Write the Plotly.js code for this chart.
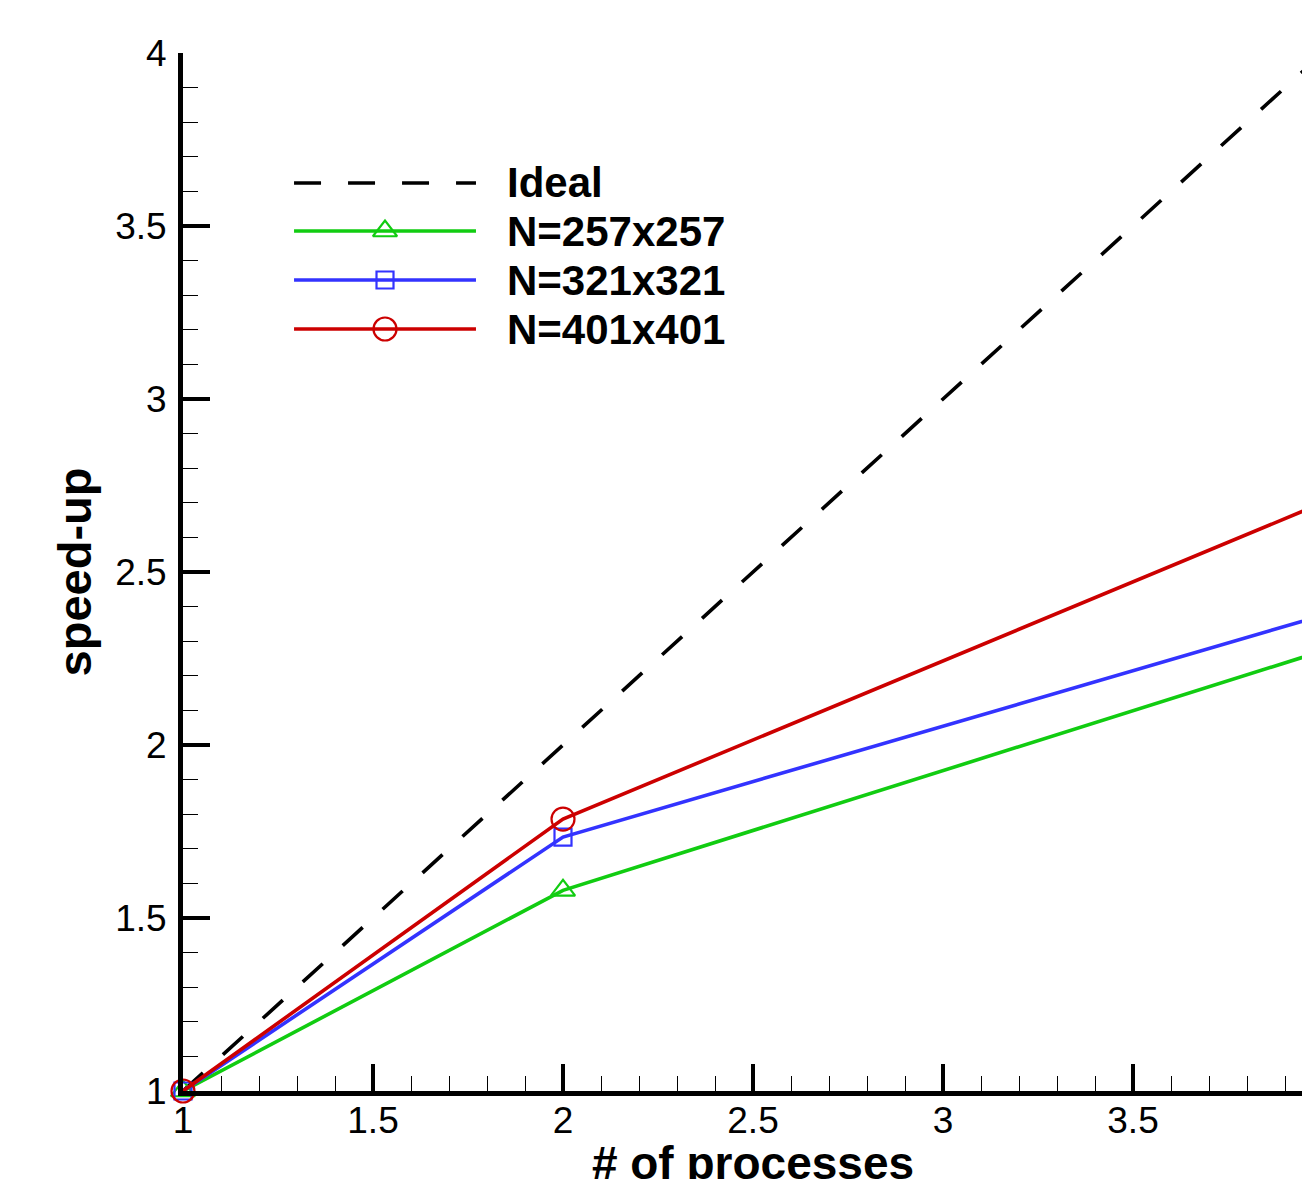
<!DOCTYPE html>
<html>
<head>
<meta charset="utf-8">
<script src="https://cdn.plot.ly/plotly-3.0.1.min.js"></script>
<style>
html,body{margin:0;padding:0;overflow:hidden;background:#fff;}
#chart{width:1400px;height:1189px;}
</style>
</head>
<body>
<div id="chart"></div>
<script>
// ---- data ----
var processes = [1, 2, 4];
var idealSpeedup = [1, 2, 4];
var speedup257 = [1, 1.58, 2.272];
var speedup321 = [1, 1.734, 2.375];
var speedup401 = [1, 1.786, 2.70];
var seriesNames = ["Ideal", "N=257x257", "N=321x321", "N=401x401"];
var seriesColors = ["#000000", "#11cc11", "#3333ff", "#cc0000"];
var seriesSymbols = [null, "triangle-up-open", "square-open", "circle-open"];
var xTickVals = [1, 1.5, 2, 2.5, 3, 3.5];
var yTickVals = [1, 1.5, 2, 2.5, 3, 3.5, 4];

// legend layout (overlay axes in 0..1 fractions of the plot area)
var legendLineX = [0.0974, 0.257];
var legendMarkX = 0.1772;
var legendTextX = 0.2825;
var legendRowY = [0.8748, 0.8285, 0.7813, 0.7341];

var markerSizes = [0, 21, 17, 23];
var lineW = 3.6;

var seriesY = [idealSpeedup, speedup257, speedup321, speedup401];
var traces = [];
for (var i = 0; i < seriesY.length; i++) {
  var t = {
    x: processes, y: seriesY[i], type: 'scatter',
    mode: i === 0 ? 'lines' : 'lines+markers',
    line: {color: seriesColors[i], width: lineW, dash: i === 0 ? '27px,27px' : 'solid'},
    showlegend: false, cliponaxis: false, hoverinfo: 'skip'
  };
  if (i > 0) t.marker = {symbol: seriesSymbols[i], size: markerSizes[i], color: seriesColors[i], line: {width: 2.2, color: seriesColors[i]}};
  traces.push(t);
}
// custom legend
var annotations = [];
for (var j = 0; j < seriesNames.length; j++) {
  traces.push({
    x: legendLineX, y: [legendRowY[j], legendRowY[j]], xaxis: 'x2', yaxis: 'y2',
    type: 'scatter', mode: 'lines',
    line: {color: seriesColors[j], width: lineW, dash: j === 0 ? '27px,27px' : 'solid'},
    showlegend: false, hoverinfo: 'skip', cliponaxis: false
  });
  if (j > 0) {
    traces.push({
      x: [legendMarkX], y: [legendRowY[j]], xaxis: 'x2', yaxis: 'y2',
      type: 'scatter', mode: 'markers',
      marker: {symbol: seriesSymbols[j], size: markerSizes[j], color: seriesColors[j], line: {width: 2.2, color: seriesColors[j]}},
      showlegend: false, hoverinfo: 'skip', cliponaxis: false
    });
  }
  annotations.push({
    xref: 'paper', yref: 'paper', x: legendTextX, y: legendRowY[j],
    xanchor: 'left', yanchor: 'middle', showarrow: false,
    text: '<b>' + seriesNames[j] + '</b>',
    font: {family: 'Liberation Sans, Arial, sans-serif', size: 42, color: '#000'}
  });
}

var axisCommon = {
  showgrid: false, zeroline: false, showline: true, linecolor: '#000', linewidth: 5,
  ticks: 'inside', ticklen: 27, tickwidth: 4, tickcolor: '#000',
  tickfont: {family: 'Liberation Sans, Arial, sans-serif', size: 37, color: '#000'},
  minor: {dtick: 0.1, ticks: 'inside', ticklen: 15, tickwidth: 1, tickcolor: '#000', showgrid: false},
  tickmode: 'array', automargin: false
};

var layout = {
  width: 1400, height: 1189,
  margin: {l: 183, r: 77, t: 53, b: 98},
  paper_bgcolor: '#fff', plot_bgcolor: '#fff',
  font: {family: 'Liberation Sans, Arial, sans-serif', color: '#000'},
  xaxis: Object.assign({}, axisCommon, {
    range: [1, 4], tickvals: xTickVals, ticktext: xTickVals.map(String),
    ticklabelstandoff: -7,
    title: {text: '<b># of processes</b>', font: {size: 46, color: '#000'}, standoff: 30}
  }),
  yaxis: Object.assign({}, axisCommon, {
    range: [1, 4], tickvals: yTickVals, ticktext: yTickVals.map(String),
    ticklabelstandoff: 4,
    title: {text: '<b>speed-up</b>', font: {size: 47, color: '#000'}, standoff: 10}
  }),
  xaxis2: {overlaying: 'x', range: [0, 1], visible: false, fixedrange: true},
  yaxis2: {overlaying: 'y', range: [0, 1], visible: false, fixedrange: true},
  annotations: annotations,
  showlegend: false
};

Plotly.newPlot('chart', traces, layout, {staticPlot: true, displayModeBar: false});
</script>
</body>
</html>
